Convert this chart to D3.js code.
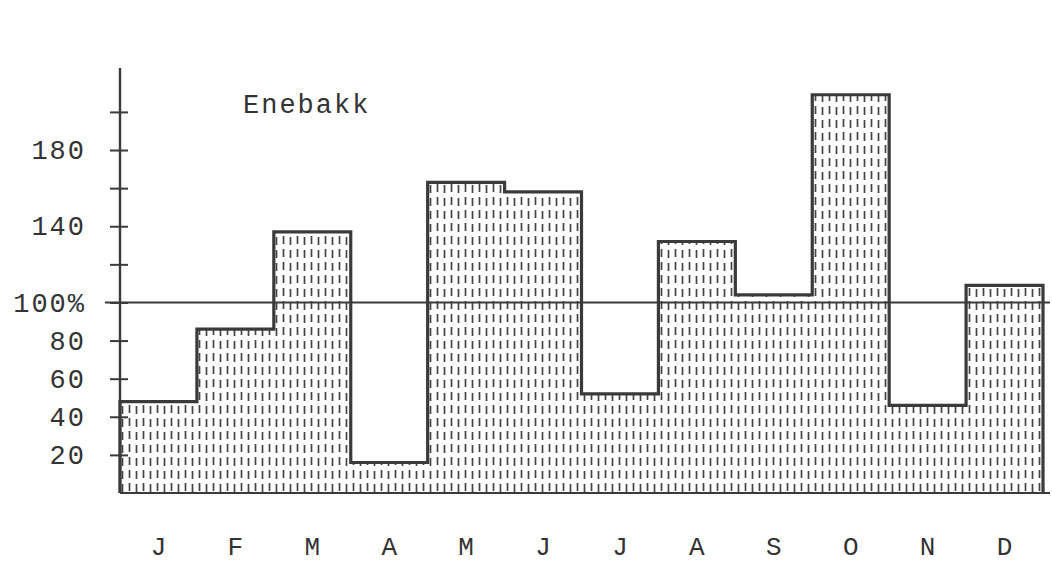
<!DOCTYPE html>
<html>
<head>
<meta charset="utf-8">
<script src="https://cdn.jsdelivr.net/npm/d3@7"></script>
<style>
  body { margin: 0; background: #fff; }
  svg { display: block; }
  text { font-family: "Liberation Mono", "DejaVu Sans Mono", monospace; fill: #333; }
</style>
</head>
<body>
<div id="chart"></div>
<script>
// monthly values, percent of normal
const months = ["J", "F", "M", "A", "M", "J", "J", "A", "S", "O", "N", "D"];
const values = [48, 86, 137, 16, 163, 158, 52, 132, 104, 209, 46, 109];
const tickValues = [20, 40, 60, 80, 100, 120, 140, 160, 180, 200];
const tickLabels = {20: "20", 40: "40", 60: "60", 80: "80", 100: "100%", 140: "140", 180: "180"};
const station = "Enebakk";

const width = 1052;
const height = 573;
const margin = {top: 70, right: 9, bottom: 80, left: 120};
const ink = "#3a3a3a";

const data = values.map((v, i) => ({i: i, value: v}));

const x = d3.scaleBand()
    .domain(d3.range(months.length))
    .range([margin.left, width - margin.right])
    .padding(0);

const y = d3.scaleLinear()
    .domain([0, 222])
    .range([height - margin.bottom, margin.top]);

const svg = d3.select('#chart').append('svg')
    .attr('width', width)
    .attr('height', height);

// dashed vertical hatch used for the bars (two columns, slightly staggered)
const pat = svg.append('defs').append('pattern')
    .attr('id', 'hatch')
    .attr('patternUnits', 'userSpaceOnUse')
    .attr('width', 14)
    .attr('height', 13);
pat.append('line')
    .attr('x1', 3.5).attr('x2', 3.5)
    .attr('y1', 2).attr('y2', 10)
    .attr('stroke', '#444')
    .attr('stroke-width', 1.7);
pat.append('line')
    .attr('x1', 10.5).attr('x2', 10.5)
    .attr('y1', 3).attr('y2', 11)
    .attr('stroke', '#444')
    .attr('stroke-width', 1.7);

// step points along the top of the bars
const steps = data.flatMap(d => [
    [x(d.i), y(d.value)],
    [x(d.i) + x.bandwidth(), y(d.value)]
]);

const area = d3.area()
    .x(p => p[0])
    .y0(y(0))
    .y1(p => p[1]);

svg.append('path')
    .datum(steps)
    .attr('fill', 'url(#hatch)')
    .attr('d', area);

// 100% reference line
svg.append('line')
    .attr('x1', margin.left - 15)
    .attr('x2', width - 2)
    .attr('y1', y(100))
    .attr('y2', y(100))
    .attr('stroke', ink)
    .attr('stroke-width', 2);

const outline = [[x(0), y(0)], ...steps, [x(months.length - 1) + x.bandwidth(), y(0)]];

svg.append('path')
    .datum(outline)
    .attr('fill', 'none')
    .attr('stroke', ink)
    .attr('stroke-width', 3.2)
    .attr('stroke-linejoin', 'miter')
    .attr('d', d3.line());

// baseline
svg.append('line')
    .attr('x1', margin.left)
    .attr('x2', width - 2)
    .attr('y1', y(0))
    .attr('y2', y(0))
    .attr('stroke', ink)
    .attr('stroke-width', 2.2);

// y axis
const yAxis = g => g
    .attr('transform', `translate(${margin.left},0)`)
    .call(d3.axisLeft(y)
        .tickValues(tickValues)
        .tickSize(10)
        .tickPadding(24)
        .tickFormat(v => tickLabels[v] || ""))
    .call(g => g.select('.domain')
        .attr('stroke', ink)
        .attr('stroke-width', 2.4)
        .attr('d', `M0,${y(223)}V${y(0)}`))
    .call(g => g.selectAll('.tick line')
        .attr('stroke', ink)
        .attr('stroke-width', 2)
        .attr('x1', 8))
    .call(g => g.selectAll('.tick text')
        .attr('font-size', 27)
        .attr('letter-spacing', 2)
        .attr('fill', '#333'));

svg.append('g').call(yAxis)
    .attr('font-family', null);

// month labels
const xAxis = g => g
    .attr('transform', `translate(0,${y(0)})`)
    .call(d3.axisBottom(x)
        .tickSize(0)
        .tickPadding(44)
        .tickFormat(i => months[i]))
    .call(g => g.select('.domain').remove())
    .call(g => g.selectAll('.tick text')
        .attr('font-size', 26)
        .attr('fill', '#333'));

svg.append('g').call(xAxis)
    .attr('font-family', null);

svg.append('text')
    .attr('x', 243)
    .attr('y', 113)
    .attr('font-size', 27)
    .attr('letter-spacing', 2)
    .text(station);
</script>
</body>
</html>
